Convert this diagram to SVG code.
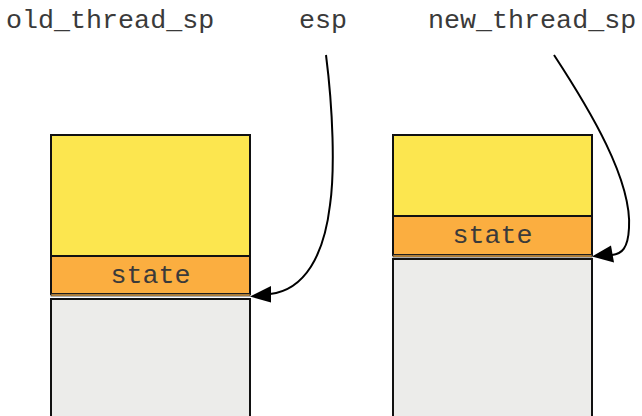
<svg xmlns="http://www.w3.org/2000/svg" width="642" height="416" viewBox="0 0 642 416">
<style>
.lbl{font-family:"Liberation Mono","Courier New",monospace;font-size:26.7px;fill:#3a3a3a}
.st{text-anchor:middle}
.y{fill:#fce64f;stroke:#111;stroke-width:2}
.o{fill:#fbae40;stroke:#111;stroke-width:2}
.g{fill:#ececea;stroke:#111;stroke-width:2}
.e{fill:none;stroke:#000;stroke-width:2}
</style>
<g id="old_thread_sp"><text class="lbl" x="6" y="28">old_thread_sp</text></g>
<g id="esp"><text class="lbl" x="299" y="28">esp</text></g>
<g id="new_thread_sp"><text class="lbl" x="428" y="28">new_thread_sp</text></g>
<g id="old_stack">
<rect class="y" x="51" y="135" width="199" height="121"/>
<rect class="o" x="51" y="256" width="199" height="38"/>
<rect x="51" y="294" width="199" height="2" fill="#fbae40" stroke="#333" stroke-width="0.8"/>
<rect class="g" x="51" y="299" width="199" height="130"/>
<text class="lbl st" x="150.5" y="283">state</text>
</g>
<g id="new_stack">
<rect class="y" x="393" y="135" width="199" height="81"/>
<rect class="o" x="393" y="216" width="199" height="39"/>
<rect x="393" y="255" width="199" height="2" fill="#fbae40" stroke="#333" stroke-width="0.8"/>
<rect class="g" x="393" y="259" width="199" height="170"/>
<text class="lbl st" x="492.5" y="243">state</text>
</g>
<g id="connectors">
<path class="e" d="M326,55 C333,110 335,170 330,205 C324,255 305,290 270,294"/>
<path d="M250,296.5 L271,286 L271,302.5 Z" fill="#000"/>
<path class="e" d="M554,55 C590,110 632,180 629,228 C628,248 622,254 612,255"/>
<path d="M592,256.5 L611,245.5 L614,262.5 Z" fill="#000"/>
</g>
</svg>
